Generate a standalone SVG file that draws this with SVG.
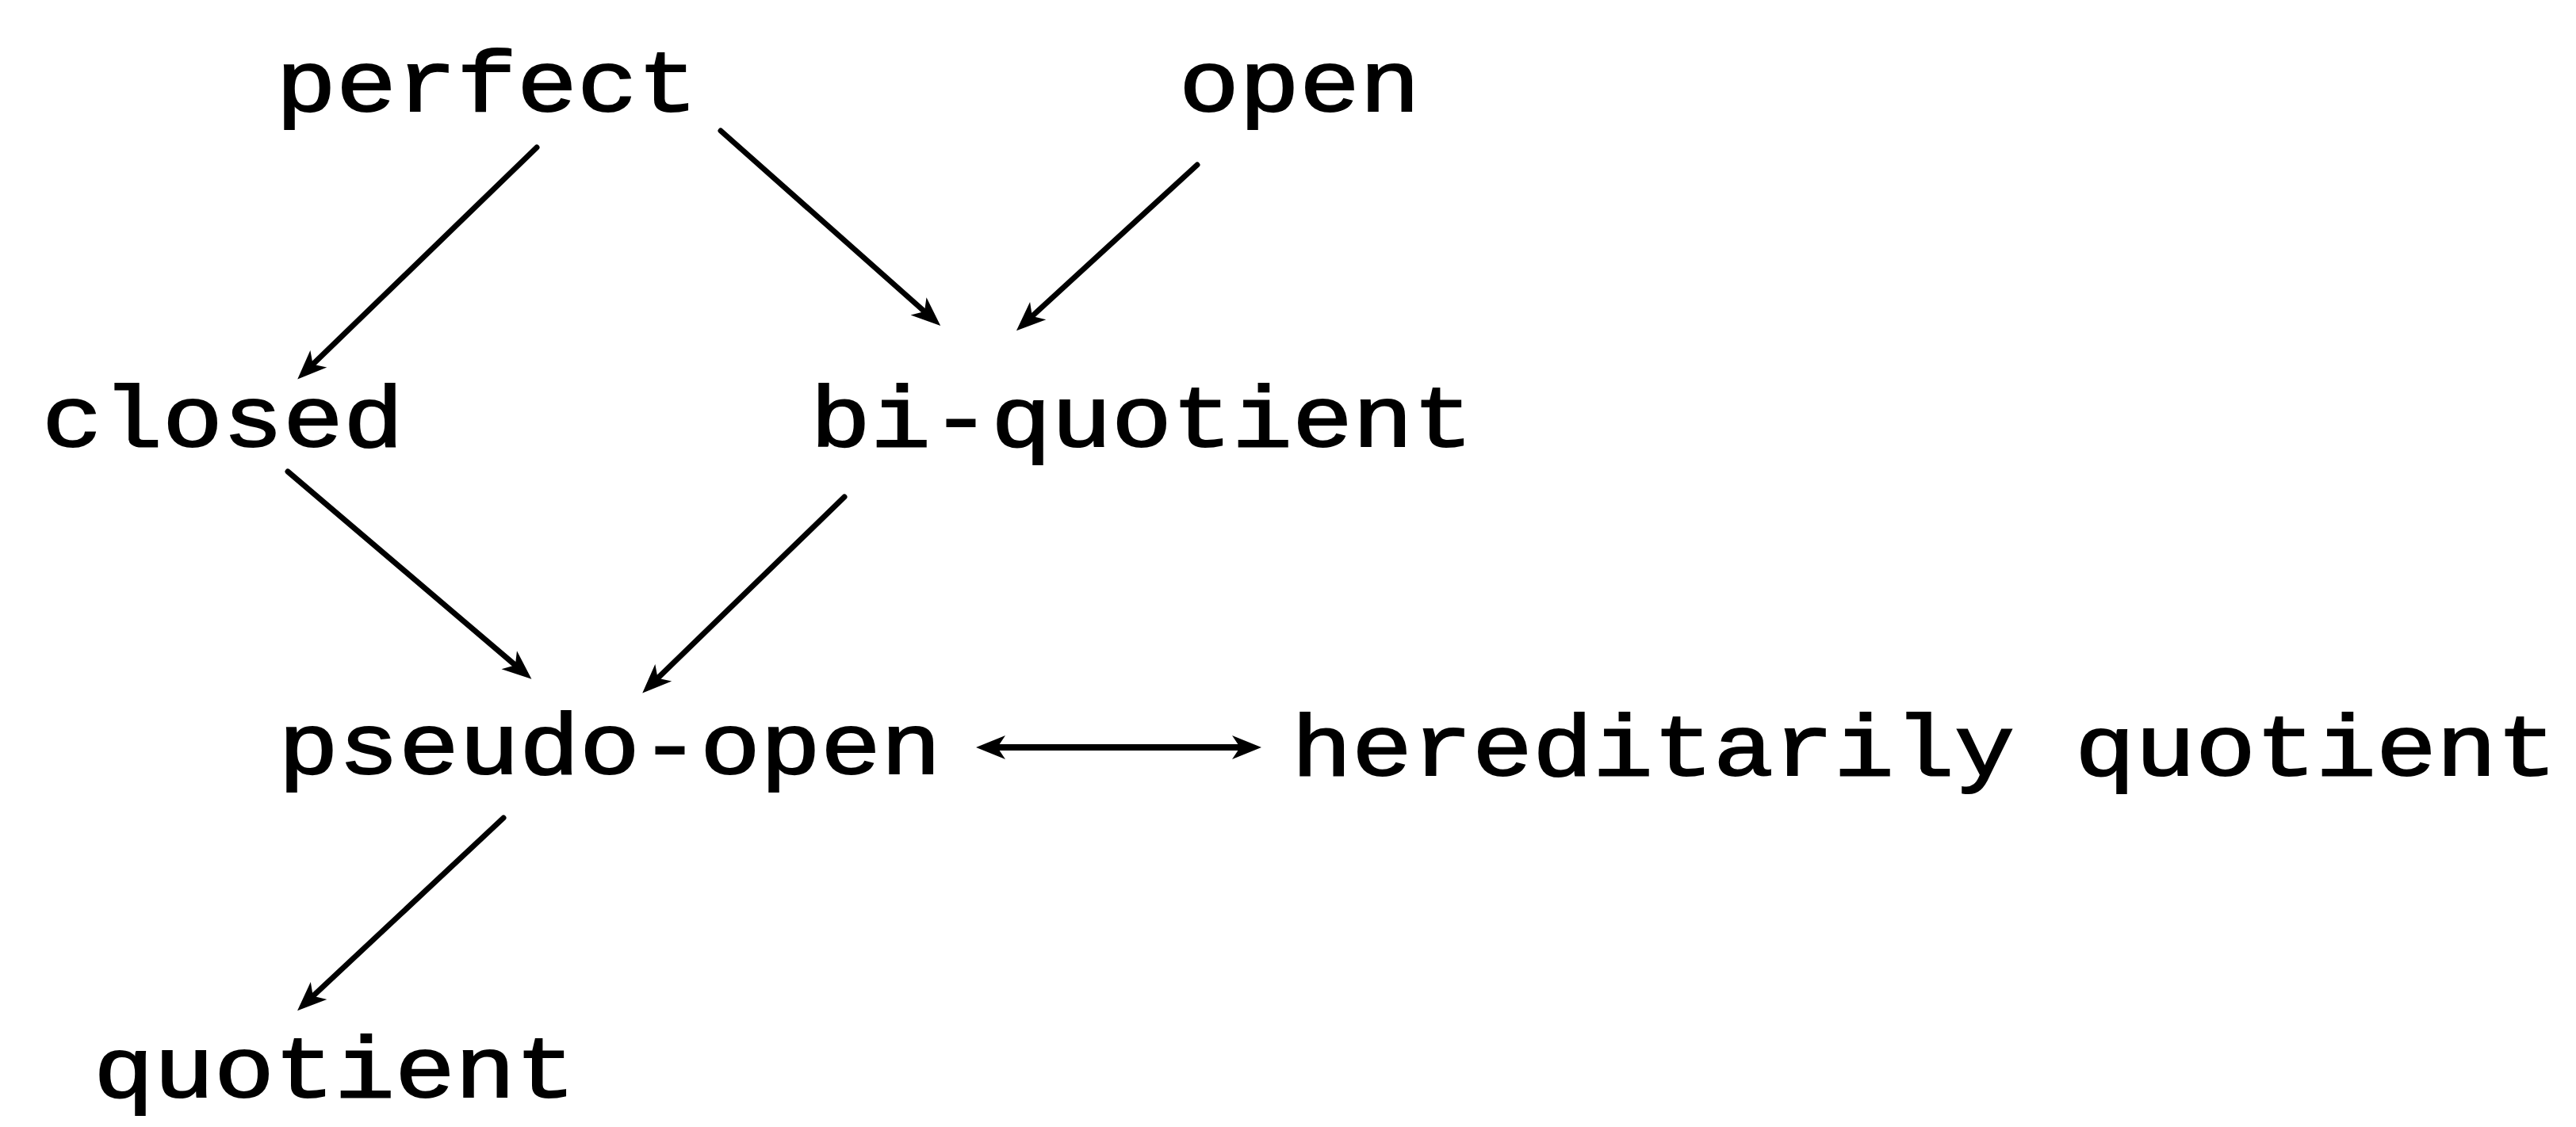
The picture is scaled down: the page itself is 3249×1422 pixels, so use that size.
<svg xmlns="http://www.w3.org/2000/svg" width="3249" height="1422" viewBox="0 0 3249 1422">
<style>
.lbl{font-family:"Courier New","Liberation Mono",monospace;font-size:110px;fill:#000;stroke:#000;stroke-width:2;text-anchor:middle}
.edge{fill:none;stroke:#000;stroke-width:7;stroke-linecap:round}
</style>
<defs>
<marker id="ah" viewBox="-25 -18 42 36" refX="0" refY="0" markerWidth="42" markerHeight="36" markerUnits="userSpaceOnUse" orient="auto-start-reverse">
<path d="M15,0 L-22,-15 L-12,0 L-22,15 Z" fill="#000"/>
</marker>
</defs>
<rect width="3249" height="1422" fill="#fff"/>
<g id="perfect"><text class="lbl" x="614" y="140" textLength="532" lengthAdjust="spacingAndGlyphs">perfect</text></g>
<g id="open"><text class="lbl" x="1639" y="140" textLength="304" lengthAdjust="spacingAndGlyphs">open</text></g>
<g id="closed"><text class="lbl" x="281" y="563" textLength="456" lengthAdjust="spacingAndGlyphs">closed</text></g>
<g id="bi-quotient"><text class="lbl" x="1440" y="563" textLength="836" lengthAdjust="spacingAndGlyphs">bi-quotient</text></g>
<g id="pseudo-open"><text class="lbl" x="769" y="976" textLength="836" lengthAdjust="spacingAndGlyphs">pseudo-open</text></g>
<g id="hereditarily-quotient"><text class="lbl" x="2427" y="978" textLength="1596" lengthAdjust="spacingAndGlyphs">hereditarily quotient</text></g>
<g id="quotient"><text class="lbl" x="422" y="1384" textLength="608" lengthAdjust="spacingAndGlyphs">quotient</text></g>
<g id="connectors">
<path class="edge" d="M677,186 L386,468" marker-end="url(#ah)"/>
<path class="edge" d="M909,165 L1175,401" marker-end="url(#ah)"/>
<path class="edge" d="M1510,208 L1293,407" marker-end="url(#ah)"/>
<path class="edge" d="M363,595 L659,847" marker-end="url(#ah)"/>
<path class="edge" d="M1065,627 L821,864" marker-end="url(#ah)"/>
<path class="edge" d="M635,1032 L386,1265" marker-end="url(#ah)"/>
<path class="edge" d="M1246,943 L1576,943" style="stroke-width:8" marker-start="url(#ah)" marker-end="url(#ah)"/>
</g>
</svg>
